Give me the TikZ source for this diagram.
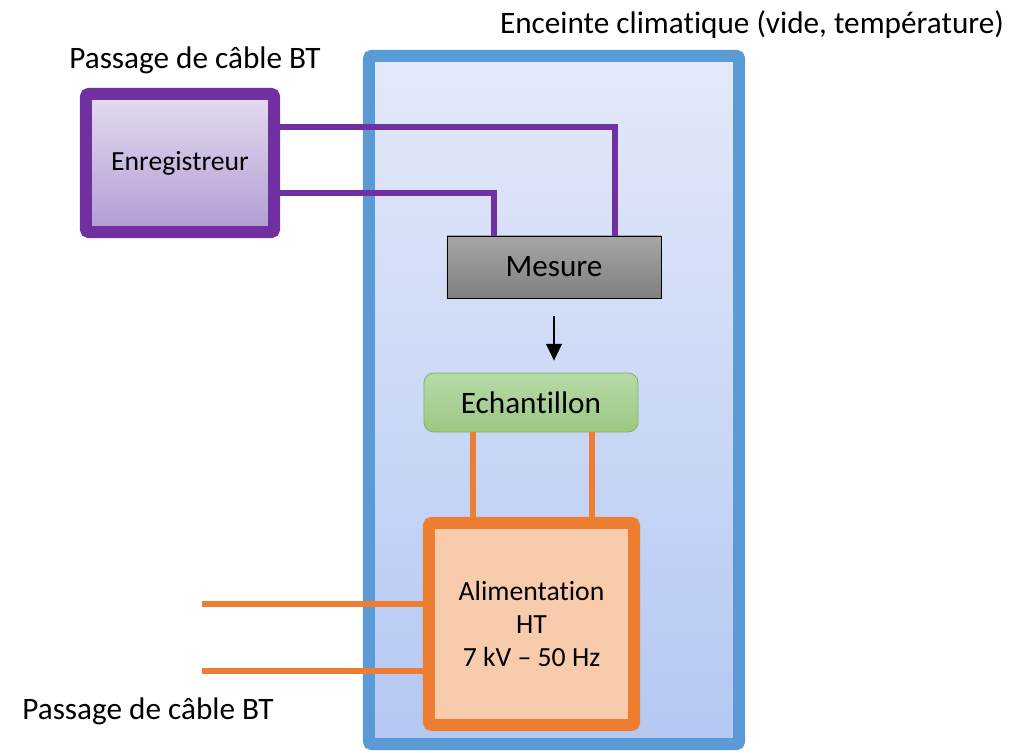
\documentclass[tikz,border=0pt]{standalone}
\usepackage{fontspec}
\setmainfont{Carlito}[Ligatures=NoCommon]
\usetikzlibrary{arrows.meta,shadows}
\definecolor{chamberblue}{RGB}{91,155,213}
\definecolor{chambertop}{RGB}{227,233,249}
\definecolor{chamberbottom}{RGB}{180,200,243}
\definecolor{recpurple}{RGB}{112,48,160}
\definecolor{rectop}{RGB}{228,220,239}
\definecolor{recbottom}{RGB}{177,155,212}
\definecolor{sampletop}{RGB}{184,217,168}
\definecolor{samplebottom}{RGB}{156,200,130}
\definecolor{sampleline}{RGB}{128,178,98}
\definecolor{htorange}{RGB}{237,125,49}
\definecolor{htfill}{RGB}{248,203,173}

\begin{document}
\begin{tikzpicture}[x=0.025cm, y=-0.025cm,
		bigtext/.style={font=\fontsize{22.2}{26}\selectfont},
		boxtext/.style={font=\fontsize{19.7}{23.5}\selectfont},
		softshadow/.style={drop shadow={opacity=0.35, shadow xshift=2pt, shadow yshift=-2pt}},
		purplewire/.style={recpurple, line width=0.135cm},
		orangewire/.style={htorange, line width=0.135cm}]
			%%%%% START %%%%%
			
			\useasboundingbox (0, 0) rectangle (1020, 753);
			
			% enceinte
			\node[softshadow, draw=chamberblue, line width=0.3cm, rounded corners=2pt,
				top color=chambertop, bottom color=chamberbottom,
				minimum width=9.25cm, minimum height=17.2cm] (chamber) at (554, 400) {};
			\node[bigtext] (chamberlabel) at (752, 25) {Enceinte climatique (vide, température)};
			
			% enregistreur
			\node[softshadow, draw=recpurple, line width=0.3cm, rounded corners=2pt,
				top color=rectop, bottom color=recbottom, boxtext,
				minimum width=4.7cm, minimum height=3.45cm] (recorder) at (180, 163) {Enregistreur};
			\node[bigtext] (bttop) at (195, 60) {Passage de câble BT};
			
			% mesure
			\node[draw=black, line width=0.6pt, top color=black!35, bottom color=black!50, bigtext,
				minimum width=5.35cm, minimum height=1.55cm] (measure) at (554, 267) {Mesure};
			
			% echantillon
			\node[draw=sampleline, line width=0.6pt, rounded corners=0.25cm,
				top color=sampletop, bottom color=samplebottom, bigtext,
				minimum width=5.35cm, minimum height=1.475cm] (sample) at (531, 402.5) {Echantillon};
			
			% alimentation
			\node[softshadow, draw=htorange, fill=htfill, line width=0.3cm, rounded corners=2pt,
				boxtext, align=center,
				minimum width=5.125cm, minimum height=5.05cm] (supply) at (531.5, 624)
				{Alimentation\\HT\\7 kV -- 50 Hz};
			\node[bigtext] (btbottom) at (148, 711) {Passage de câble BT};
			
			% cables
			\draw[purplewire] (recorder.east |- 0, 127) -| (measure.north -| 615, 0);
			\draw[purplewire] (recorder.east |- 0, 193) -| (measure.north -| 494, 0);
			
			\draw[-{Triangle[width=0.4cm, length=0.42cm]}, line width=0.8pt,
				shorten <=0.45cm, shorten >=0.3cm] (measure.south) -- (measure.south |- sample.north);
			
			\draw[orangewire] (sample.south -| 473, 0) -- (supply.north -| 473, 0);
			\draw[orangewire] (sample.south -| 592, 0) -- (supply.north -| 592, 0);
			
			\coordinate (feedA) at (202, 604);
			\coordinate (feedB) at (202, 671);
			\draw[orangewire] (feedA) -- (feedA -| supply.west);
			\draw[orangewire] (feedB) -- (feedB -| supply.west);
			
			%%%%% END %%%%%
		\end{tikzpicture}
\end{document}
